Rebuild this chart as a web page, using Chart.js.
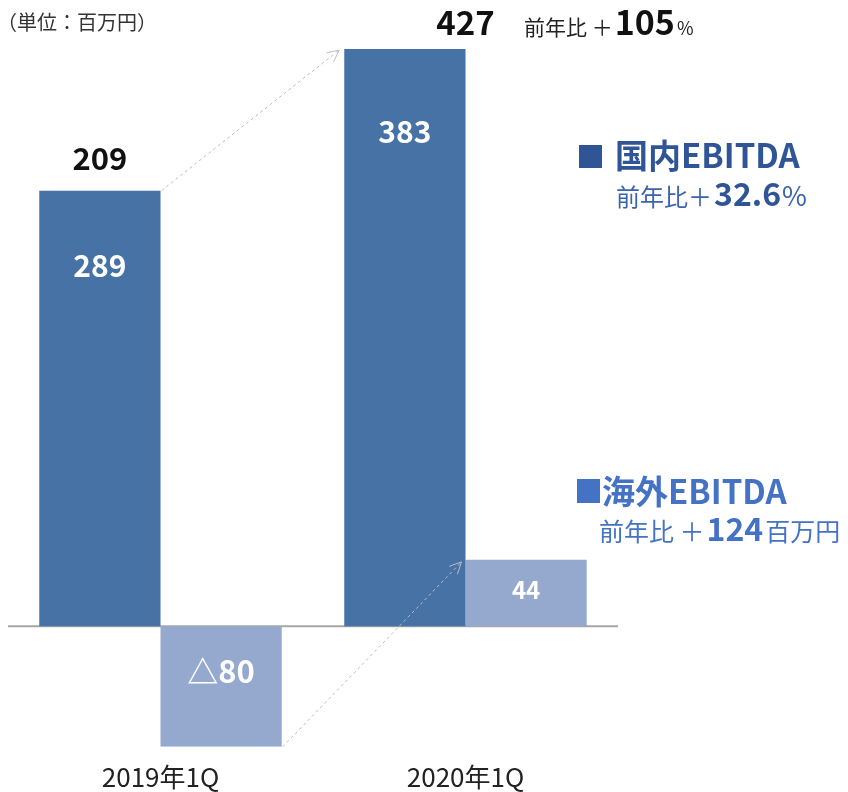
<!DOCTYPE html>
<html><head><meta charset="utf-8">
<script src="https://cdn.jsdelivr.net/npm/chart.js@4"></script>
<style>html,body{margin:0;padding:0;background:#fff;}canvas{display:block;}</style>
</head><body>
<canvas id="c" width="848" height="792"></canvas>
<script>
const categories = ['2019年1Q', '2020年1Q'];
const domestic = [289, 383];
const overseas = [-80, 44];
const yMin = -80;
const yMax = 383;
const unitLabel = '（単位：百万円）';
const totalYoY = ['前年比 ＋', '105', '%'];
const domesticLegend = ['国内EBITDA'];
const domesticYoY = ['前年比＋', '32.6', '%'];
const overseasLegend = ['海外EBITDA'];
const overseasYoY = ['前年比 ＋', '124', '百万円'];

const FF = "'Noto Sans CJK JP','Noto Sans',sans-serif";
const C_DOM = '#4672a6';
const C_OVS = '#95a9cf';
const DOM_LABEL_OFFSET = [75, 83];

function fmt(v){ return v < 0 ? '△' + Math.abs(v) : String(v); }

function drawSegs(ctx, x, y, segs){
  ctx.textBaseline = 'alphabetic';
  ctx.textAlign = 'left';
  let cx = x;
  for (const s of segs){
    ctx.font = s.font;
    ctx.fillStyle = s.color;
    ctx.fillText(s.text, cx, y);
    cx += ctx.measureText(s.text).width + (s.gap || 0);
  }
}

function arrow(ctx, x1, y1, x2, y2){
  ctx.save();
  ctx.strokeStyle = '#bdbdbd';
  ctx.lineWidth = 1;
  ctx.setLineDash([3, 3]);
  ctx.beginPath(); ctx.moveTo(x1, y1); ctx.lineTo(x2, y2); ctx.stroke();
  ctx.setLineDash([]);
  const a = Math.atan2(y2 - y1, x2 - x1);
  const L = 13, sp = 0.45;
  ctx.beginPath();
  ctx.moveTo(x2 - L * Math.cos(a - sp), y2 - L * Math.sin(a - sp));
  ctx.lineTo(x2, y2);
  ctx.lineTo(x2 - L * Math.cos(a + sp), y2 - L * Math.sin(a + sp));
  ctx.stroke();
  ctx.restore();
}

const overlay = {
  id: 'overlay',
  beforeDatasetsDraw(chart){
    const ctx = chart.ctx, y = chart.scales.y, a = chart.chartArea;
    const y0 = y.getPixelForValue(0);
    ctx.save();
    ctx.strokeStyle = '#a6a6a6';
    ctx.lineWidth = 2;
    ctx.beginPath(); ctx.moveTo(a.left, y0); ctx.lineTo(a.right, y0); ctx.stroke();
    ctx.restore();
  },
  afterDatasetsDraw(chart){
    const ctx = chart.ctx;
    const m0 = chart.getDatasetMeta(0).data;
    const m1 = chart.getDatasetMeta(1).data;
    const xs = chart.scales.x;
    ctx.save();
    // labels inside bars
    ctx.textAlign = 'center';
    ctx.textBaseline = 'middle';
    ctx.fillStyle = '#ffffff';
    m0.forEach((b, i) => {
      ctx.font = 'bold 30px ' + FF;
      ctx.fillText(fmt(domestic[i]), b.x, b.y + DOM_LABEL_OFFSET[i]);
    });
    m1.forEach((b, i) => {
      const v = overseas[i];
      if (v < 0){
        ctx.font = 'bold 31px ' + FF;
        ctx.fillText(fmt(v), b.x, b.base + 45);
      } else {
        ctx.font = 'bold 24px ' + FF;
        ctx.fillText(fmt(v), b.x, (b.y + b.base) / 2 - 3);
      }
    });
    // totals
    ctx.fillStyle = '#111';
    ctx.font = 'bold 31px ' + FF;
    ctx.fillText(String(domestic[0] + overseas[0]), m0[0].x, 158);
    ctx.font = 'bold 33px ' + FF;
    ctx.fillText(String(domestic[1] + overseas[1]), xs.getPixelForValue(1), 22);
    // category labels
    ctx.fillStyle = '#222';
    ctx.font = '26px ' + FF;
    categories.forEach((c, i) => ctx.fillText(c, xs.getPixelForValue(i), 777));
    // arrows
    arrow(ctx, m0[0].x + m0[0].width / 2 + 1, m0[0].y, m0[1].x - m0[1].width / 2 - 5, m0[1].y + 1);
    arrow(ctx, m1[0].x + m1[0].width / 2 + 1, m1[0].y, m1[1].x - m1[1].width / 2 - 4, m1[1].y + 2);
    // unit
    drawSegs(ctx, -3, 30, [{text: unitLabel, font: '20px ' + FF, color: '#333'}]);
    // total yoy
    drawSegs(ctx, 524, 35, [
      {text: totalYoY[0], font: '21px ' + FF, color: '#222', gap: 2},
      {text: totalYoY[1], font: 'bold 34px ' + FF, color: '#111', gap: 2},
      {text: totalYoY[2], font: '18px ' + FF, color: '#222'}
    ]);
    // domestic legend
    ctx.fillStyle = '#2f5597';
    ctx.fillRect(579, 145, 23, 23);
    drawSegs(ctx, 615, 168, [{text: domesticLegend[0], font: 'bold 33px ' + FF, color: '#2f5597'}]);
    drawSegs(ctx, 616, 206, [
      {text: domesticYoY[0], font: '24px ' + FF, color: '#3b64ad', gap: 2},
      {text: domesticYoY[1], font: 'bold 32px ' + FF, color: '#2f5597', gap: 1},
      {text: domesticYoY[2], font: '27px ' + FF, color: '#3b64ad'}
    ]);
    // overseas legend
    ctx.fillStyle = '#4472c4';
    ctx.fillRect(577, 479, 23, 24);
    drawSegs(ctx, 602, 504, [{text: overseasLegend[0], font: 'bold 33px ' + FF, color: '#4472c4'}]);
    drawSegs(ctx, 599, 541, [
      {text: overseasYoY[0], font: '25px ' + FF, color: '#4472c4', gap: 2},
      {text: overseasYoY[1], font: 'bold 32px ' + FF, color: '#4472c4', gap: 2},
      {text: overseasYoY[2], font: '25px ' + FF, color: '#4472c4'}
    ]);
    ctx.restore();
  }
};

new Chart(document.getElementById('c'), {
  type: 'bar',
  data: {
    labels: categories,
    datasets: [
      {label: '国内EBITDA', data: domestic, backgroundColor: C_DOM, barPercentage: 1, categoryPercentage: 0.795},
      {label: '海外EBITDA', data: overseas, backgroundColor: C_OVS, barPercentage: 1, categoryPercentage: 0.795}
    ]
  },
  options: {
    responsive: false,
    animation: false,
    layout: {padding: {left: 8, right: 230, top: 49, bottom: 45.3}},
    plugins: {legend: {display: false}, tooltip: {enabled: false}},
    scales: {
      x: {display: false},
      y: {display: false, min: yMin, max: yMax}
    }
  },
  plugins: [overlay]
});
</script>
</body></html>
